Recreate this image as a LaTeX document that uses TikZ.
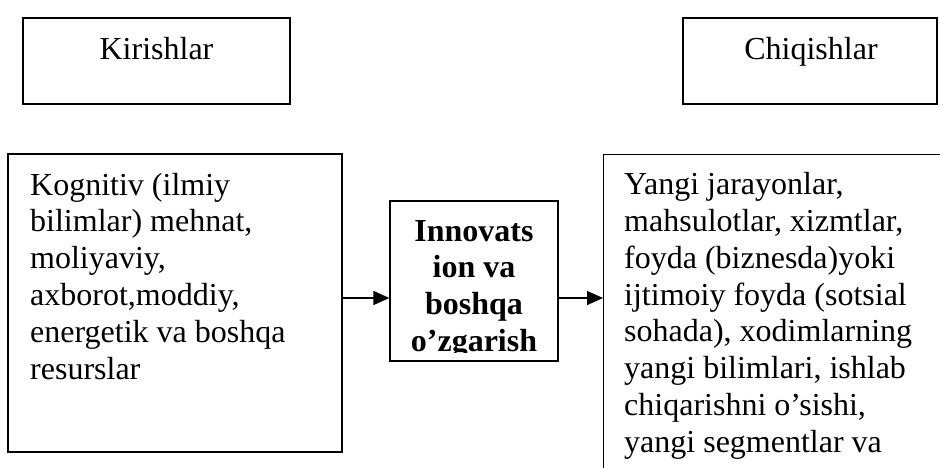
\documentclass[tikz,border=0pt]{standalone}
\usepackage{fontspec}
\setmainfont{Liberation Serif}
\usetikzlibrary{arrows.meta}
\begin{document}
\begin{tikzpicture}[x=1pt,y=-1pt,
  box/.style={draw=black, line width=1.3pt, rectangle, inner sep=0pt},
  txt/.style={inner sep=0pt, font=\fontsize{32}{36.8}\selectfont, align=left},
  arr/.style={line width=1.3pt, -{Triangle[length=16pt,width=14pt]}}]
\useasboundingbox (0,0) rectangle (940,467);
\clip (0,0) rectangle (940,467);
\fill[white] (0,0) rectangle (940,467);
% top boxes
\node[box, minimum width=267pt, minimum height=86pt] (kir) at (156.5,61) {};
\node[txt, anchor=base] (kirt) at (156.5,59) {Kirishlar};
\node[box, minimum width=254pt, minimum height=86pt] (chi) at (810,61) {};
\node[txt, anchor=base] (chit) at (811,59) {Chiqishlar};
% left big box
\node[box, minimum width=334pt, minimum height=298pt] (left) at (175,303) {};
\node[txt, anchor=base west] (leftt) at (30,379) {Kognitiv (ilmiy\\bilimlar) mehnat,\\moliyaviy,\\axborot,moddiy,\\energetik va boshqa\\resurslar};
% middle box
\node[box, minimum width=168pt, minimum height=160pt] (mid) at (474,281) {};
\begin{scope}
\clip (mid.north west) rectangle ([yshift=9pt]mid.south east);
\node[txt, anchor=base, align=center, font=\fontsize{32}{36.8}\selectfont\bfseries] (midt) at (474,351.5) {Innovats\\ion va\\boshqa\\o’zgarish};
\end{scope}
% right big box
\node[box, minimum width=360pt, minimum height=340pt, anchor=north west] (right) at (603,154) {};
\node[txt, anchor=base west] (rightt) at (624,452.2) {Yangi jarayonlar,\\mahsulotlar, xizmtlar,\\foyda (biznesda)yoki\\ijtimoiy foyda (sotsial\\sohada), xodimlarning\\yangi bilimlari, ishlab\\chiqarishni o’sishi,\\yangi segmentlar va};
% arrows
\coordinate (row) at (0,298);
\draw[arr] (left.east |- row) -- (mid.west |- row);
\draw[arr] (mid.east |- row) -- (right.west |- row);
\end{tikzpicture}
\end{document}
